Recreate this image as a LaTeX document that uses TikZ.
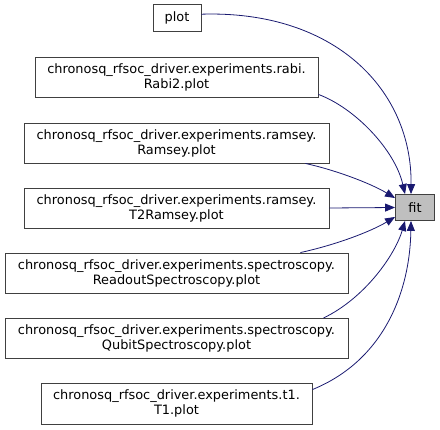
\documentclass[tikz,border=0pt]{standalone}
\usepackage{fontspec}
\setmainfont{DejaVu Sans}
\usetikzlibrary{arrows.meta,calc}
\definecolor{edgeblue}{HTML}{191970}
\definecolor{boxgray}{HTML}{BFBFBF}
\definecolor{border}{HTML}{404040}
\begin{document}
\begin{tikzpicture}[x=1pt,y=-1pt,
  box/.style={draw=border,line width=0.9pt,fill=white,inner sep=0pt,align=center,
    font=\fontsize{12.9}{15}\selectfont,anchor=center},
  edge/.style={draw=edgeblue,line width=0.8pt,-{Triangle[length=10pt,width=8pt]}}]
\useasboundingbox (0,0) rectangle (440,430);
\node[box,minimum width=48pt,minimum height=27pt] (plot) at (177,18.2) {plot};
\node[box,minimum width=283pt,minimum height=40pt] (rabi) at (176.5,77) {chronosq\_rfsoc\_driver.experiments.rabi.\\Rabi2.plot};
\node[box,minimum width=305pt,minimum height=40pt] (ramsey) at (176.5,143) {chronosq\_rfsoc\_driver.experiments.ramsey.\\Ramsey.plot};
\node[box,minimum width=305pt,minimum height=40pt] (t2) at (176.5,208) {chronosq\_rfsoc\_driver.experiments.ramsey.\\T2Ramsey.plot};
\node[box,minimum width=343pt,minimum height=40pt] (readout) at (176.5,273) {chronosq\_rfsoc\_driver.experiments.spectroscopy.\\ReadoutSpectroscopy.plot};
\node[box,minimum width=343pt,minimum height=40pt] (qubit) at (176.5,338.5) {chronosq\_rfsoc\_driver.experiments.spectroscopy.\\QubitSpectroscopy.plot};
\node[box,minimum width=271pt,minimum height=41pt] (t1) at (176.5,403.5) {chronosq\_rfsoc\_driver.experiments.t1.\\T1.plot};
\node[box,fill=boxgray,minimum width=39pt,minimum height=26pt] (fit) at (415,207.5) {fit};

\draw[edge] ([yshift=4pt]plot.east) .. controls (335,10) and (412,90) .. ([xshift=-4pt]fit.north);
\draw[edge] ([yshift=3pt]rabi.south east) .. controls (355,108) and (395,150) .. ([xshift=-10pt]fit.north);
\draw[edge] ([xshift=-24pt]ramsey.south east) .. controls (335,170) and (370,183) .. ([yshift=-4pt]fit.north west);
\draw[edge] (t2.east) -- (fit.west);
\draw[edge] ([xshift=-48pt]readout.north east) .. controls (335,245) and (370,232) .. ([yshift=4pt]fit.south west);
\draw[edge] ([xshift=-25pt]qubit.north east) .. controls (365,298) and (395,255) .. ([xshift=-10pt]fit.south);
\draw[edge] ([yshift=-7pt]t1.north east) .. controls (385,360) and (410,290) .. ([xshift=-4pt]fit.south);
\end{tikzpicture}
\end{document}
